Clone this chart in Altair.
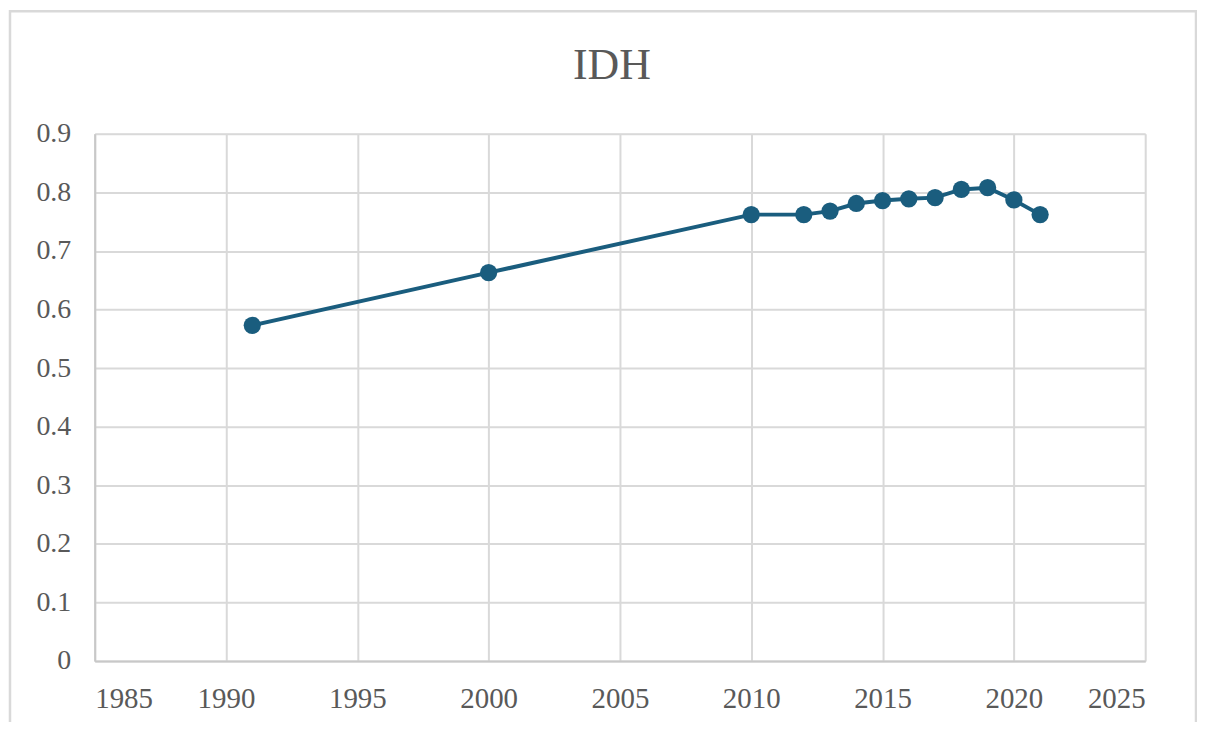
import altair as alt
import pandas as pd

years = [1991, 2000, 2010, 2012, 2013, 2014, 2015, 2016, 2017, 2018, 2019, 2020, 2021]
idh = [0.573, 0.663, 0.762, 0.762, 0.768, 0.781, 0.786, 0.789, 0.791, 0.805, 0.808, 0.787, 0.762]
x_ticks = [1985, 1990, 1995, 2000, 2005, 2010, 2015, 2020, 2025]
y_ticks = [0, 0.1, 0.2, 0.3, 0.4, 0.5, 0.6, 0.7, 0.8, 0.9]

df = pd.DataFrame({"year": years, "idh": idh})

W, H = 1054, 529
FONT = "Liberation Serif"
LINE = "#1a5d7e"

x = alt.X("year:Q", scale=alt.Scale(domain=[1985, 2025], nice=False, zero=False),
          axis=alt.Axis(values=x_ticks, format="d", title=None, grid=True,
                        gridColor="#d9d9d9", gridWidth=2, domainColor="#c8c8c8",
                        domainWidth=2, ticks=False, labelFont=FONT, labelFontSize=29,
                        labelColor="#595959", labelPadding=24))
y = alt.Y("idh:Q", scale=alt.Scale(domain=[0, 0.9], nice=False),
          axis=alt.Axis(values=y_ticks, format=".1~f", title=None, grid=True,
                        gridColor="#d9d9d9", gridWidth=2, domainColor="#c8c8c8",
                        domainWidth=2, ticks=False, labelFont=FONT, labelFontSize=28,
                        labelColor="#595959", labelPadding=24))

frame = alt.Chart(pd.DataFrame({"a": [0]})).mark_rect(
    fill=None, stroke="#d9d9d9", strokeWidth=2.5, clip=False
).encode(x=alt.value(-85), x2=alt.value(W + 51), y=alt.value(-123), y2=alt.value(H + 80))

line = alt.Chart(df).mark_line(color=LINE, strokeWidth=4).encode(x=x, y=y)
pts = alt.Chart(df).mark_circle(color=LINE, size=300, opacity=1).encode(x=x, y=y)

chart = alt.layer(frame, line, pts).properties(
    width=W, height=H,
    autosize=alt.AutoSizeParams(type="none"),
    padding={"left": 87, "top": 125, "right": 52, "bottom": 60},
    title=alt.TitleParams("IDH", font=FONT, fontSize=44, fontWeight="normal",
                          color="#595959", anchor="middle", offset=-113, frame="group",
                          baseline="alphabetic", dx=-8),
).configure_view(stroke=None).configure(background="white")

chart.save("out.html", embed_options={"renderer": "svg", "actions": False})
